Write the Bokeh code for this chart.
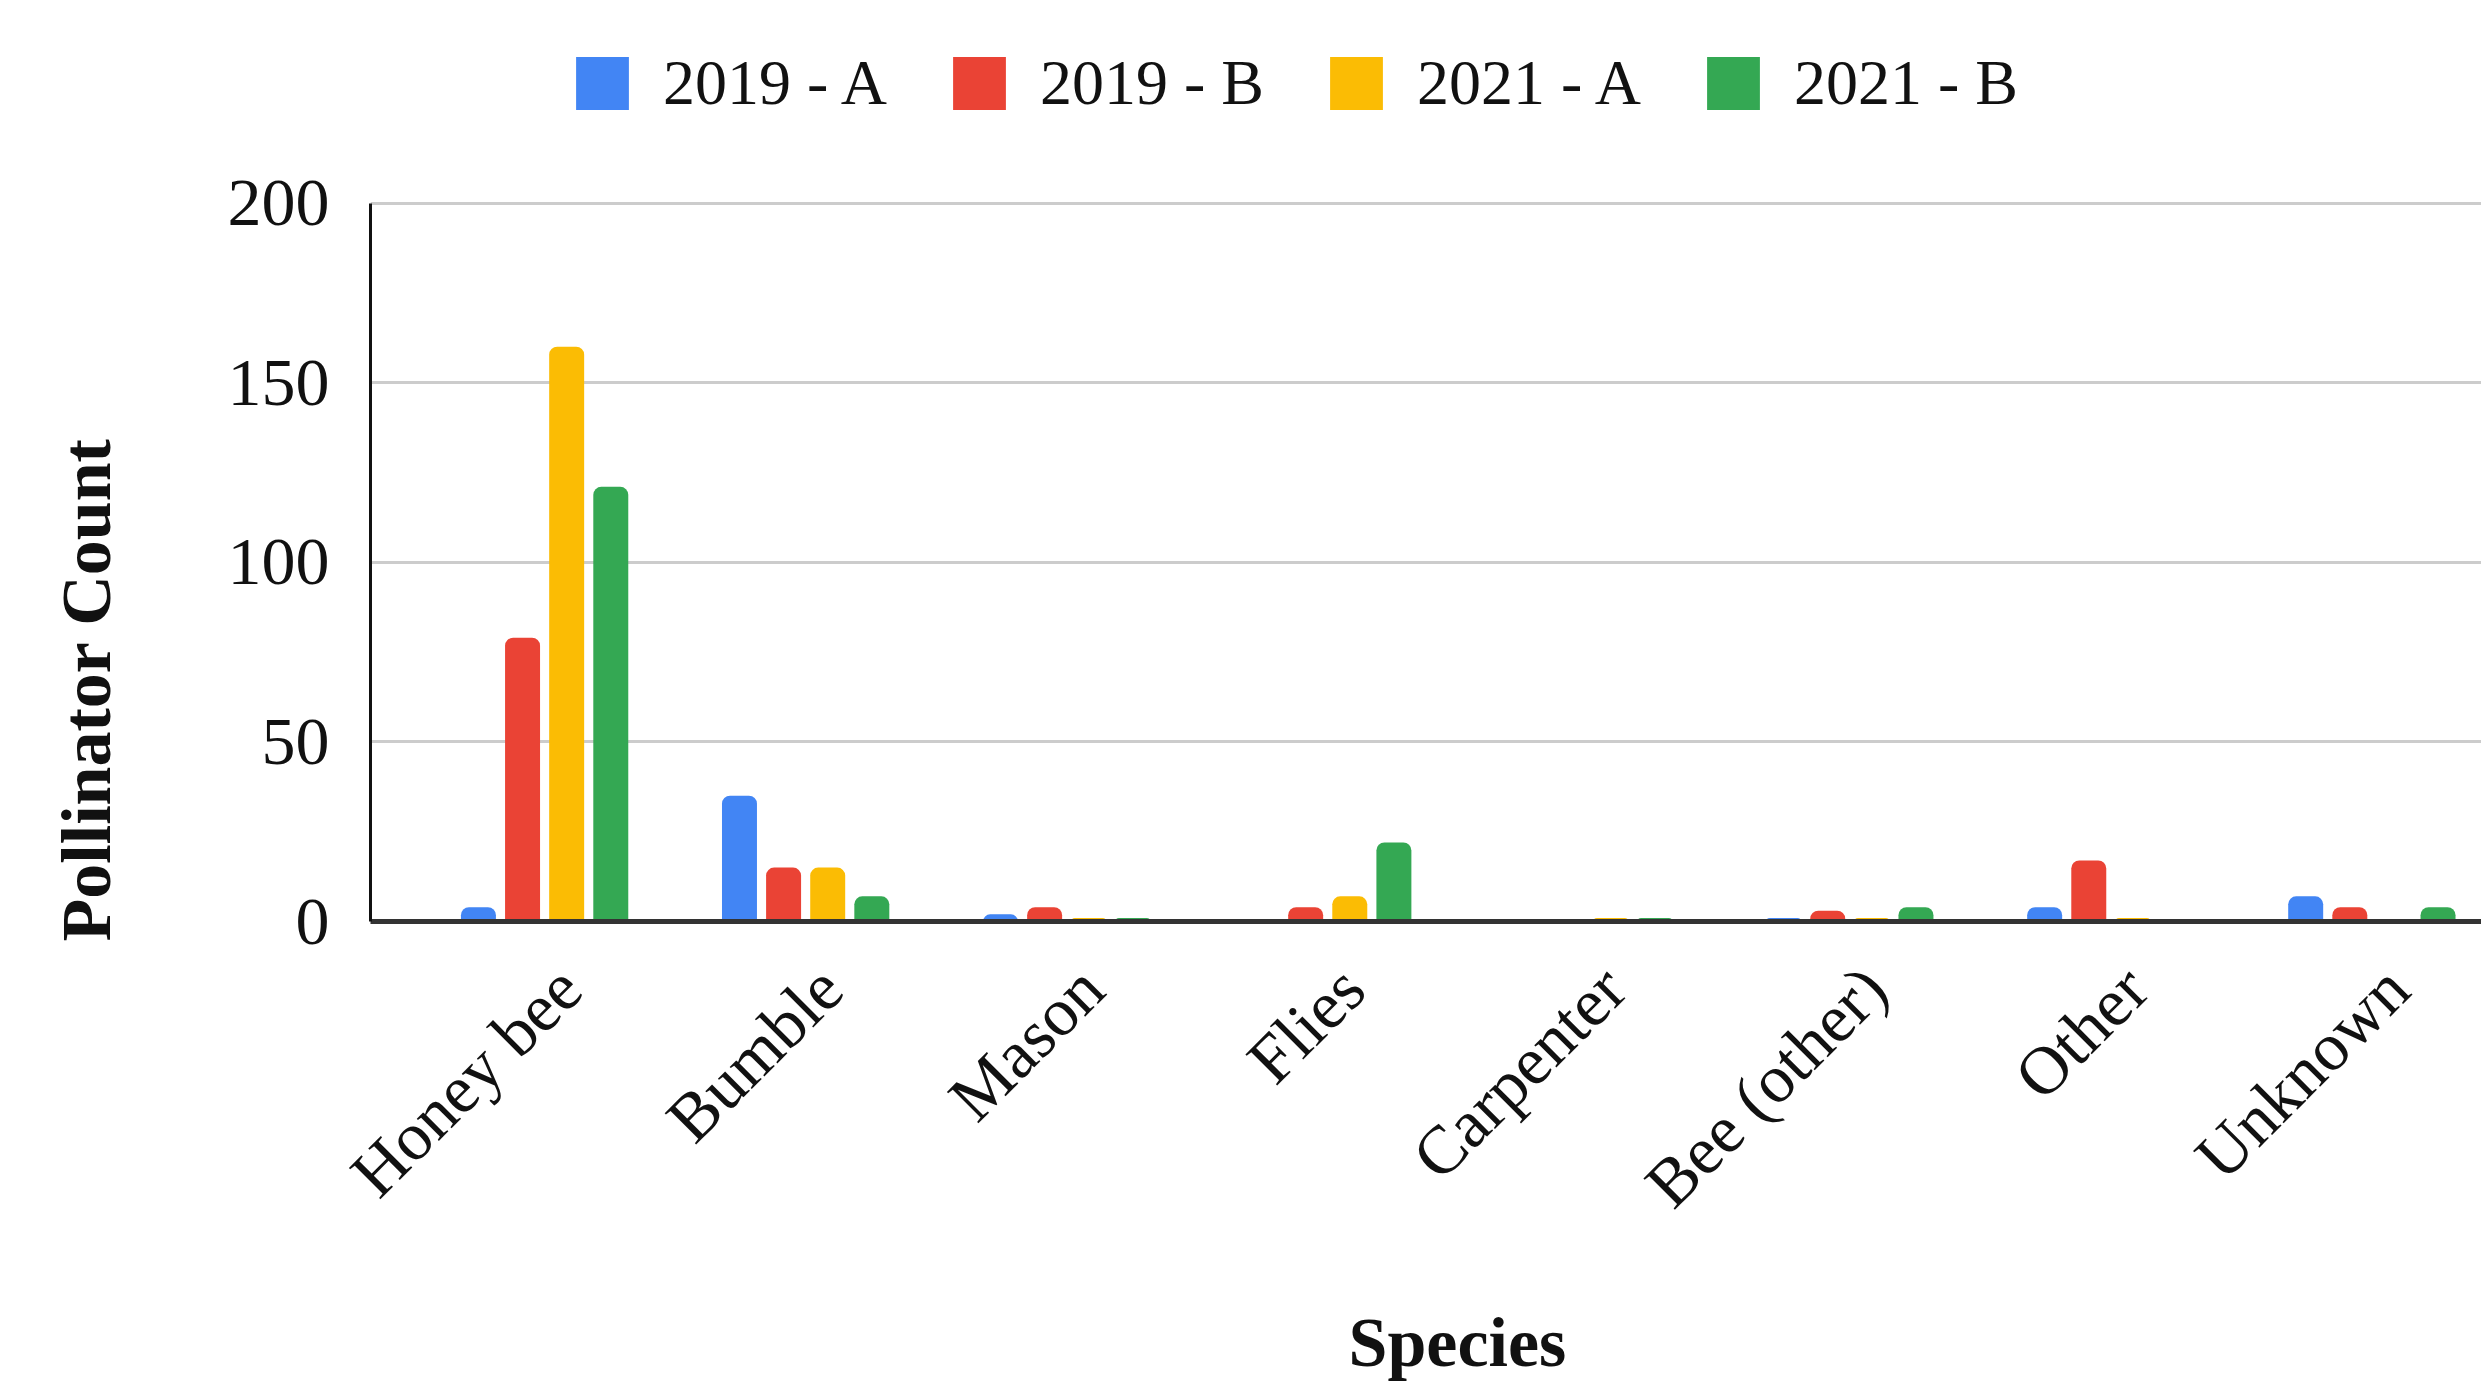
from bokeh.plotting import figure
from bokeh.models import Range1d, FixedTicker, Legend, LegendItem, Title, ColumnDataSource
from bokeh.embed import file_html
from bokeh.resources import INLINE

species = ["Honey bee", "Bumble", "Mason", "Flies", "Carpenter", "Bee (other)", "Other", "Unknown"]
series_names = ["2019 - A", "2019 - B", "2021 - A", "2021 - B"]
v2019a = [4, 35, 2, 0, 0, 1, 4, 7]
v2019b = [79, 15, 4, 4, 0, 3, 17, 4]
v2021a = [160, 15, 1, 7, 1, 1, 1, 0]
v2021b = [121, 7, 1, 22, 1, 4, 0, 4]
colors = ["#4285F4", "#EA4335", "#FBBC04", "#34A853"]
y_ticks = [0, 50, 100, 150, 200]
y_max = 200

FONT = "Liberation Serif"
shift = -0.096  # label anchor offset vs group centre

# frame spans from canvas top to baseline; values above y_max hold the legend
y_top = y_max * 921 / (921 - 202.5)

p = figure(width=2481, height=1382, output_backend="svg", toolbar_location=None,
           x_range=Range1d(-0.667 + shift, 7.42 + shift), y_range=Range1d(0, y_top),
           min_border_left=370, min_border_right=0, min_border_top=0, min_border_bottom=461)
p.outline_line_color = None
p.background_fill_color = "white"
p.border_fill_color = "white"

pitch = 0.169
width = 0.134
renderers = []
for k, (vals, c) in enumerate(zip([v2019a, v2019b, v2021a, v2021b], colors)):
    xs = [i + shift + (k - 1.5) * pitch for i in range(len(species))]
    src = ColumnDataSource(dict(x=xs, top=vals))
    r = p.vbar(x="x", top="top", bottom=0, width=width, source=src, fill_color=c,
               line_color=None, border_radius=(8, 8, 0, 0))
    renderers.append(r)

p.xaxis.ticker = FixedTicker(ticks=list(range(len(species))))
p.xaxis.major_label_overrides = {i: s for i, s in enumerate(species)}
p.xaxis.major_label_orientation = 0.785398
p.xaxis.major_label_text_font = FONT
p.xaxis.major_label_text_font_size = "68px"
p.xaxis.major_label_text_color = "#111111"
p.xaxis.major_label_standoff = 50
p.xaxis.major_tick_line_color = None
p.xaxis.minor_tick_line_color = None
p.xaxis.axis_line_color = "#333333"
p.xaxis.axis_line_width = 5

p.yaxis.ticker = FixedTicker(ticks=y_ticks)
p.yaxis.bounds = (0, y_max)
p.yaxis.major_label_text_font = FONT
p.yaxis.major_label_text_font_size = "68px"
p.yaxis.major_label_text_color = "#111111"
p.yaxis.major_label_standoff = 35
p.yaxis.major_tick_line_color = None
p.yaxis.minor_tick_line_color = None
p.yaxis.axis_line_color = "#111111"
p.yaxis.axis_line_width = 3

p.xgrid.grid_line_color = None
p.ygrid.grid_line_color = "#cccccc"
p.ygrid.grid_line_width = 3

# spacers then titles (panels stack outward from the frame)
p.add_layout(Title(text=" ", text_font_size="49px", standoff=0), "left")
ytitle = Title(text="Pollinator Count", align="left", offset=-20, text_font=FONT,
               text_font_style="bold", text_font_size="70px", text_color="#111111", standoff=88)
p.add_layout(ytitle, "left")

p.add_layout(Title(text=" ", text_font_size="43px", standoff=0), "below")
xtitle = Title(text="Species", align="left", offset=978, text_font=FONT,
               text_font_style="bold", text_font_size="70px", text_color="#111111", standoff=0)
p.add_layout(xtitle, "below")

legend = Legend(items=[LegendItem(label=n, renderers=[r]) for n, r in zip(series_names, renderers)],
                orientation="horizontal", location=(199, 801),
                label_text_font=FONT, label_text_font_size="64px", label_text_color="#111111",
                glyph_width=66, glyph_height=66, label_standoff=28, spacing=59,
                border_line_color=None, background_fill_alpha=0, padding=0, margin=0)
p.add_layout(legend, "center")

open("out.html", "w").write(file_html(p, INLINE))
